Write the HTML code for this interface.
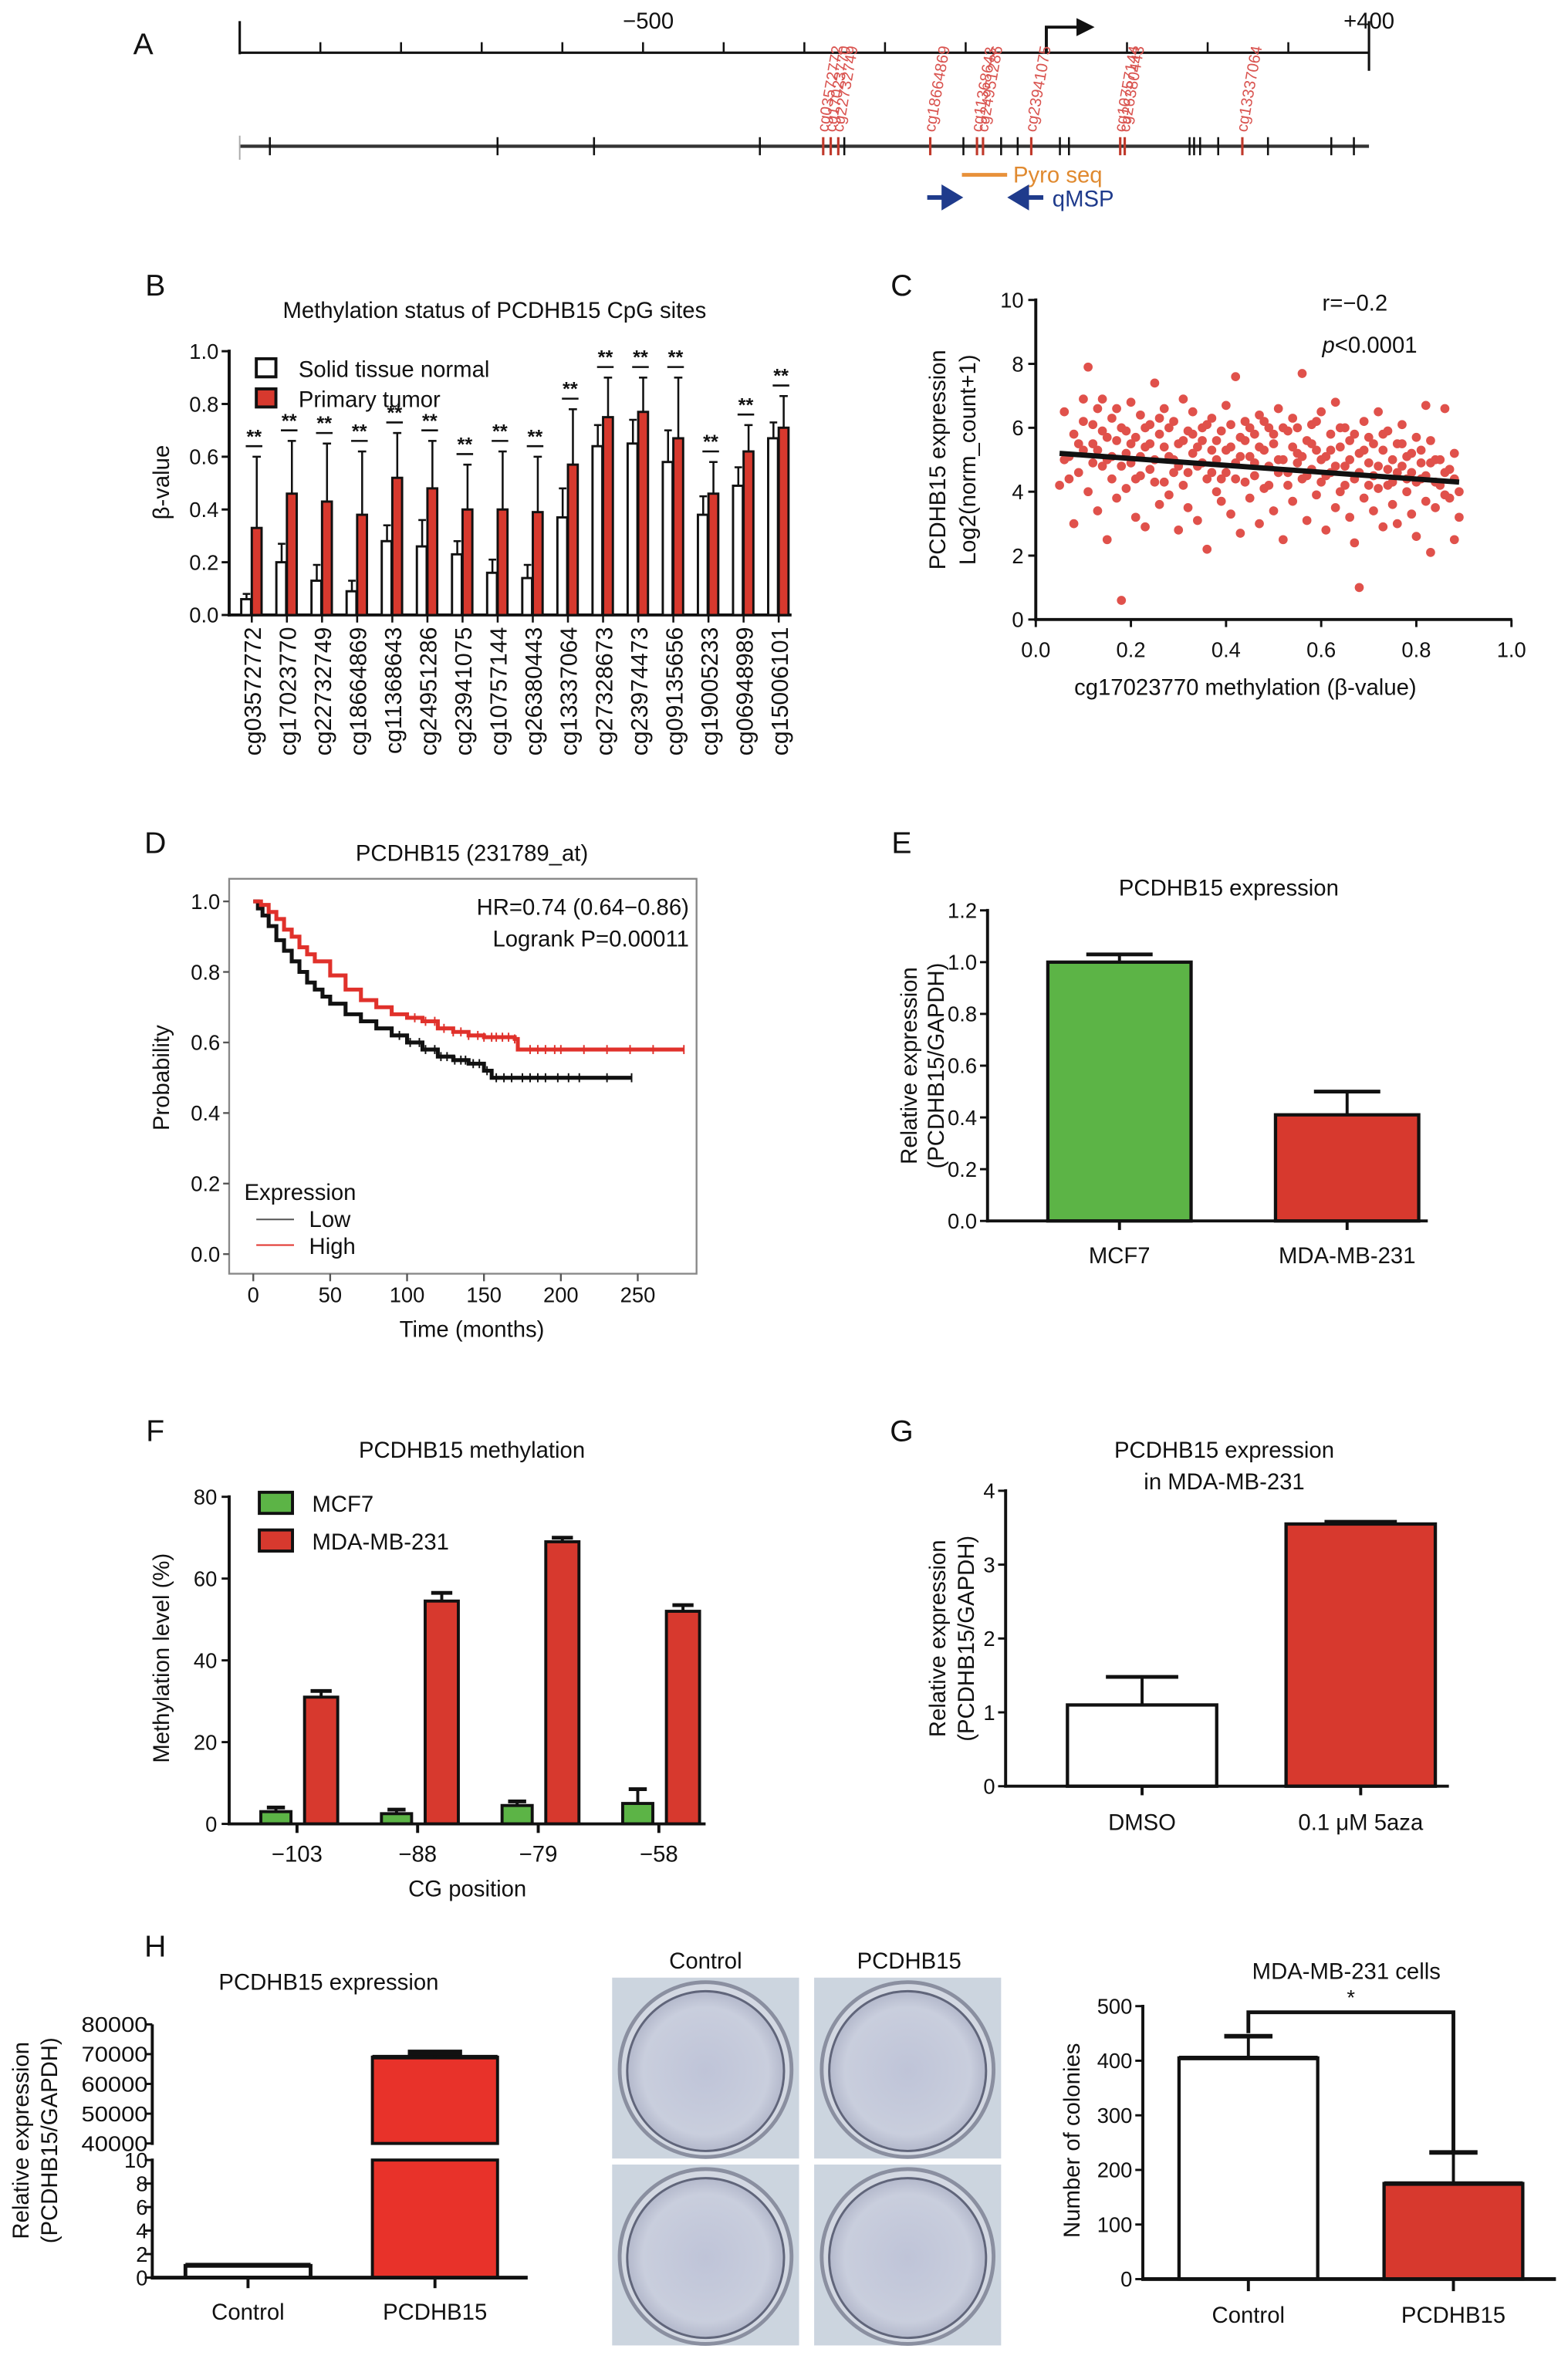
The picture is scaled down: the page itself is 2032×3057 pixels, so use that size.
<!DOCTYPE html>
<html><head><meta charset="utf-8"><style>
html,body{margin:0;padding:0;background:#fff;}
svg{display:block;font-family:"Liberation Sans",Arial,sans-serif;}
</style></head><body>
<svg id="fig" xmlns="http://www.w3.org/2000/svg" width="2032" height="3057" viewBox="0 0 1040 1565" preserveAspectRatio="none">
<defs>
<radialGradient id="plate" cx="50%" cy="50%" r="50%">
<stop offset="0%" stop-color="#bfc4d8"/><stop offset="80%" stop-color="#c9cedd"/><stop offset="100%" stop-color="#b3b8cb"/>
</radialGradient>
</defs>
</svg>
<script>
// ---------- data ----------
const bSites=["cg03572772","cg17023770","cg22732749","cg18664869","cg11368643","cg24951286","cg23941075","cg10757144","cg26380443","cg13337064","cg27328673","cg23974473","cg09135656","cg19005233","cg06948989","cg15006101"];
const bNormal=[0.06,0.20,0.13,0.09,0.28,0.26,0.23,0.16,0.14,0.37,0.64,0.65,0.58,0.38,0.49,0.67];
const bNormalErr=[0.08,0.27,0.19,0.13,0.34,0.36,0.28,0.21,0.19,0.48,0.72,0.74,0.70,0.45,0.56,0.73];
const bTumor=[0.33,0.46,0.43,0.38,0.52,0.48,0.40,0.40,0.39,0.57,0.75,0.77,0.67,0.46,0.62,0.71];
const bTumorErr=[0.60,0.66,0.65,0.62,0.69,0.66,0.57,0.62,0.60,0.78,0.90,0.90,0.90,0.58,0.72,0.83];
const bTicks=[0,0.2,0.4,0.6,0.8,1.0];
const bTickLabels=["0.0","0.2","0.4","0.6","0.8","1.0"];

const cX=[0.05,0.06,0.07,0.08,0.08,0.09,0.10,0.10,0.11,0.11,0.12,0.12,0.13,0.13,0.14,0.14,0.15,0.15,0.16,0.16,0.17,0.17,0.18,0.18,0.19,0.19,0.20,0.20,0.21,0.21,0.22,0.22,0.23,0.23,0.24,0.24,0.25,0.25,0.26,0.26,0.27,0.27,0.28,0.28,0.29,0.29,0.30,0.30,0.31,0.31,0.32,0.32,0.33,0.33,0.34,0.34,0.35,0.35,0.36,0.36,0.37,0.37,0.38,0.38,0.39,0.39,0.40,0.40,0.41,0.41,0.42,0.42,0.43,0.43,0.44,0.44,0.45,0.45,0.46,0.46,0.47,0.47,0.48,0.48,0.49,0.49,0.50,0.50,0.51,0.51,0.52,0.52,0.53,0.53,0.54,0.54,0.55,0.55,0.56,0.56,0.57,0.57,0.58,0.58,0.59,0.59,0.60,0.60,0.61,0.61,0.62,0.62,0.63,0.63,0.64,0.64,0.65,0.65,0.66,0.66,0.67,0.67,0.68,0.68,0.69,0.69,0.70,0.70,0.71,0.71,0.72,0.72,0.73,0.73,0.74,0.74,0.75,0.75,0.76,0.76,0.77,0.77,0.78,0.78,0.79,0.79,0.80,0.80,0.81,0.81,0.82,0.82,0.83,0.83,0.84,0.84,0.85,0.86,0.86,0.87,0.88,0.88,0.89,0.89,
0.06,0.07,0.09,0.10,0.12,0.13,0.14,0.15,0.16,0.17,0.18,0.19,0.20,0.21,0.22,0.23,0.24,0.25,0.26,0.27,0.28,0.29,0.30,0.31,0.32,0.33,0.34,0.35,0.36,0.37,0.38,0.39,0.40,0.41,0.42,0.43,0.44,0.45,0.46,0.47,0.48,0.49,0.50,0.51,0.52,0.53,0.54,0.55,0.56,0.57,0.58,0.59,0.60,0.61,0.62,0.63,0.64,0.65,0.66,0.67,0.68,0.69,0.70,0.71,0.72,0.73,0.74,0.75,0.76,0.77,0.78,0.79,0.80,0.81,0.82,0.83,0.84,0.85,0.86,0.87,0.88];
const cY=[4.2,6.5,5.1,3.0,5.8,4.6,6.9,5.3,7.9,4.0,6.1,5.5,3.4,6.6,4.8,5.9,2.5,5.0,6.3,4.4,5.6,3.8,0.6,6.0,5.2,4.1,6.8,4.9,5.7,3.2,6.4,4.5,5.4,2.9,6.1,4.7,7.4,5.0,3.6,5.8,4.3,6.6,5.1,3.9,6.2,4.6,5.5,2.8,6.9,4.2,5.9,3.5,5.2,6.5,4.8,3.1,5.6,6.0,4.4,2.2,5.3,6.3,4.0,5.0,3.7,5.9,4.6,6.7,5.4,3.3,7.6,4.9,5.7,2.7,4.3,6.2,5.1,3.8,5.8,4.5,6.4,3.0,5.3,4.1,6.0,4.8,5.5,3.4,6.6,4.6,5.0,2.5,5.9,4.2,6.3,3.7,5.2,4.9,7.7,4.4,5.6,3.1,6.1,4.7,5.3,3.9,6.5,4.3,5.1,2.8,5.8,4.6,6.8,3.5,5.4,4.0,6.0,4.8,3.2,5.6,4.4,2.4,1.0,5.2,6.2,3.8,4.9,5.7,3.4,4.5,6.5,4.1,5.3,2.9,4.7,5.9,3.6,4.3,5.5,3.0,4.8,6.1,4.0,5.1,3.3,4.6,5.7,2.6,4.4,5.3,3.7,6.7,4.9,2.1,5.0,3.5,4.2,6.6,3.9,4.7,2.5,5.2,4.0,3.2,
5.0,4.4,5.5,6.2,4.9,5.3,6.9,5.7,5.1,6.6,4.8,5.9,5.5,4.4,5.1,6.0,5.5,4.3,6.3,5.4,6.0,5.0,4.8,5.6,4.6,5.8,5.4,4.9,6.1,4.6,5.6,4.4,5.3,6.1,4.4,5.1,5.6,6.0,4.9,5.4,6.2,4.2,5.8,5.0,6.0,4.6,5.4,6.0,5.1,4.5,5.5,6.2,5.0,4.5,5.3,4.8,6.0,4.2,5.0,5.8,4.6,5.3,4.2,5.5,4.8,5.8,4.2,5.0,4.6,5.5,4.4,5.2,4.3,4.9,4.5,5.6,4.3,5.0,4.6,3.8,4.4];
const cFit=[[0.05,5.2],[0.89,4.3]];
const cTicksX=[0,0.2,0.4,0.6,0.8,1.0];
const cTicksXLabels=["0.0","0.2","0.4","0.6","0.8","1.0"];
const cTicksY=[0,2,4,6,8,10];

const dLowT=[0,3,6,10,15,20,25,30,35,40,45,50,60,70,80,90,100,110,120,130,140,150,155,246];
const dLowP=[1,0.98,0.96,0.93,0.89,0.86,0.83,0.80,0.77,0.75,0.73,0.71,0.68,0.66,0.64,0.62,0.60,0.58,0.56,0.55,0.54,0.52,0.50,0.50];
const dHighT=[0,5,10,15,20,25,30,35,40,50,60,70,80,90,100,110,120,130,140,150,170,172,280];
const dHighP=[1,0.99,0.97,0.95,0.92,0.90,0.87,0.85,0.83,0.79,0.75,0.72,0.70,0.68,0.67,0.66,0.64,0.63,0.62,0.615,0.61,0.58,0.58];
const dLowCens=[95,102,108,112,118,122,126,131,135,138,143,147,152,158,163,168,175,180,185,190,198,205,212,230,246];
const dHighCens=[105,112,118,124,130,135,140,146,150,155,158,162,166,170,180,185,190,196,200,215,230,245,260,280];
const dTicksX=[0,50,100,150,200,250];
const dTicksY=[0,0.2,0.4,0.6,0.8,1.0];
const dTicksYLabels=["0.0","0.2","0.4","0.6","0.8","1.0"];

const eCats=["MCF7","MDA-MB-231"];
const eVals=[1.0,0.41];
const eErr=[1.03,0.50];
const eTicks=[0,0.2,0.4,0.6,0.8,1.0,1.2];
const eTickLabels=["0.0","0.2","0.4","0.6","0.8","1.0","1.2"];

const fCats=["\u2212103","\u221288","\u221279","\u221258"];
const fMCF7=[3,2.5,4.5,5];
const fMCF7Err=[4,3.5,5.5,8.5];
const fMDA=[31,54.5,69,52];
const fMDAErr=[32.5,56.5,70,53.5];
const fTicks=[0,20,40,60,80];

const gCats=["DMSO","0.1 \u03bcM 5aza"];
const gVals=[1.1,3.55];
const gErr=[1.48,3.58];
const gTicks=[0,1,2,3,4];

const hCats=["Control","PCDHB15"];
const hVals=[1,69000];
const hErr=[1.1,70500];
const hTicksLow=[0,2,4,6,8,10];
const hTicksHigh=[40000,50000,60000,70000,80000];

const rCats=["Control","PCDHB15"];
const rVals=[405,175];
const rErr=[445,232];
const rTicks=[0,100,200,300,400,500];

const aBlackTicks=[179,330,394,504,560,639,664,675,703,709,789,792,796,808,841,883,898];
const aRedSites=["cg03572772","cg17023770","cg22732749","cg18664869","cg11368643","cg24951286","cg23941075","cg10757144","cg26380443","cg13337064"];
const aRedPos=[546,551,556,617,648,652,684,743,746,824];

// ---------- helpers ----------
const NS="http://www.w3.org/2000/svg";
const S=document.getElementById('fig');
const RED="#d7392e", GREEN="#5cb446";
function el(tag,a,name,parent){
  const e=document.createElementNS(NS,tag);
  for(const k in a) e.setAttribute(k,a[k]);
  
  
  (parent||S).appendChild(e);
  return e;
}
function tx(x,y,s,size,anchor,name,extra){
  const a=Object.assign({x:x,y:y,'font-size':size,'text-anchor':anchor||'middle',fill:'#111'},extra||{});
  const e=el('text',a,name);
  e.textContent=s;
  return e;
}
function ln(x1,y1,x2,y2,name,w,c){return el('line',{x1,y1,x2,y2,stroke:c||'#111','stroke-width':w||2},name);}

// ---------- Panel A ----------
tx(95,36,"A",20,'middle','panel-label-a');
ln(159,35,908,35,'a-axis-line',1.6);
ln(159,14,159,36,'a-axis-left-end',1.6);
ln(908,14,908,47,'a-axis-right-end',1.6);
for(let i=1;i<14;i++){ ln(159+i*53.5,28,159+i*53.5,35,'a-axis-tick',1.3); }
tx(430,19,"\u2212500",15,'middle','a-label-minus500');
tx(908,19,"+400",15,'middle','a-label-plus400');
el('path',{d:'M694,35 V18 H716',fill:'none',stroke:'#111','stroke-width':2},'tss-arrow-stem');
el('path',{d:'M714,12 L726,18 L714,24 Z',fill:'#111'},'tss-arrow-head');
ln(159,97,908,97,'cpg-line',2.2,'#333');
ln(159,90,159,106,'cpg-line-start',1,'#aaa');
aBlackTicks.forEach(x=>{ ln(x,91,x,103,'cpg-tick',1.3); });
aRedPos.forEach((x,i)=>{
  ln(x,91,x,103,'cpg-tick-red',1.6,'#c0392b');
  tx(x+3,88,aRedSites[i],10.5,'start','cpg-site-label',{fill:'#d9534f',transform:`rotate(-80 ${x+3} 88)`});
});
ln(638,116,668,116,'pyro-seq-line',2.5,'#e8913a');
tx(672,121,"Pyro seq",15,'start','pyro-seq-label',{fill:'#e08a30'});
el('path',{d:'M615,131 H630 M626,125 L636,131 L626,137 Z',stroke:'#1f3b8c','stroke-width':3,fill:'#1f3b8c'},'qmsp-forward-arrow');
el('path',{d:'M692,131 H677 M681,125 L671,131 L681,137 Z',stroke:'#1f3b8c','stroke-width':3,fill:'#1f3b8c'},'qmsp-reverse-arrow');
tx(698,137,"qMSP",15,'start','qmsp-label',{fill:'#1f3b8c'});

// ---------- Panel B ----------
tx(103,196,"B",20,'middle','panel-label-b');
tx(328,211,"Methylation status of PCDHB15 CpG sites",15,'middle','b-title');
const yB=v=>408-v*175;
const gxB=i=>167+i*23.3;
ln(152,232,152,409,'b-y-axis',2);
ln(151,408,525,408,'b-x-axis',2);
bTicks.forEach((v,i)=>{ ln(147,yB(v),152,yB(v),'b-y-tick',1.5); tx(145,yB(v)+5,bTickLabels[i],14,'end','b-y-tick-label'); });
tx(112,320,"\u03b2-value",15,'middle','b-y-axis-title',{transform:'rotate(-90 112 320)'});
bSites.forEach((s,i)=>{
  const g=gxB(i);
  ln(g-3.5,yB(bNormal[i]),g-3.5,yB(bNormalErr[i]),'b-normal-error',1.3);
  ln(g-6,yB(bNormalErr[i]),g-1,yB(bNormalErr[i]),'b-normal-error-cap',1.3);
  el('rect',{x:g-7,y:yB(bNormal[i]),width:6.5,height:408-yB(bNormal[i]),fill:'#fff',stroke:'#111','stroke-width':1.5},'bar-normal-'+s);
  ln(g+3.3,yB(bTumor[i]),g+3.3,yB(bTumorErr[i]),'b-tumor-error',1.3);
  ln(g+0.5,yB(bTumorErr[i]),g+6,yB(bTumorErr[i]),'b-tumor-error-cap',1.3);
  el('rect',{x:g,y:yB(bTumor[i]),width:6.5,height:408-yB(bTumor[i]),fill:RED,stroke:'#111','stroke-width':1.5},'bar-tumor-'+s);
  ln(g-4,yB(bTumorErr[i])-7,g+7,yB(bTumorErr[i])-7,'b-significance-line',1.3);
  tx(g+1.5,yB(bTumorErr[i])-9,"**",13,'middle','b-significance-stars',{'font-weight':'bold'});
  ln(g,408,g,413,'b-x-tick',1.3);
  tx(g+6,416,s,15.5,'end','b-x-tick-label',{transform:`rotate(-90 ${g+6} 416)`});
});
el('rect',{x:170,y:238,width:13,height:12,fill:'#fff',stroke:'#111','stroke-width':2},'legend-swatch-normal');
tx(198,250,"Solid tissue normal",15,'start','legend-label-normal');
el('rect',{x:170,y:258,width:13,height:12,fill:RED,stroke:'#111','stroke-width':2},'legend-swatch-tumor');
tx(198,270,"Primary tumor",15,'start','legend-label-tumor');

// ---------- Panel C ----------
tx(598,196,"C",20,'middle','panel-label-c');
const xC=v=>687+v*315.5, yC=v=>411-v*21.2;
cX.forEach((x,i)=>{ el('circle',{cx:xC(x),cy:yC(cY[i]),r:3.0,fill:'#e0514b'},'c-scatter-point'); });
ln(xC(cFit[0][0]),yC(cFit[0][1]),xC(cFit[1][0]),yC(cFit[1][1]),'c-regression-line',3.5);
ln(687,198,687,412,'c-y-axis',2);
ln(686,411,1003,411,'c-x-axis',2);
cTicksY.forEach(v=>{ ln(682,yC(v),687,yC(v),'c-y-tick',1.5); tx(679,yC(v)+5,String(v),14,'end','c-y-tick-label'); });
cTicksX.forEach((v,i)=>{ ln(xC(v),411,xC(v),416,'c-x-tick',1.5); tx(xC(v),436,cTicksXLabels[i],14,'middle','c-x-tick-label'); });
tx(627,305,"PCDHB15 expression",15,'middle','c-y-axis-title-1',{transform:'rotate(-90 627 305)'});
tx(647,305,"Log2(norm_count+1)",15,'middle','c-y-axis-title-2',{transform:'rotate(-90 647 305)'});
tx(826,461,"cg17023770 methylation (\u03b2-value)",15,'middle','c-x-axis-title');
tx(877,206,"r=\u22120.2",15,'start','c-correlation-r');
const pt=tx(877,234,"",15,'start','c-p-value');
pt.innerHTML='<tspan font-style="italic">p</tspan>&lt;0.0001';

// ---------- Panel D ----------
tx(103,566,"D",20,'middle','panel-label-d');
tx(313,571,"PCDHB15 (231789_at)",15,'middle','d-title');
const xD=t=>168+t*1.02, yD=v=>832-v*234;
el('rect',{x:152,y:583,width:310,height:262,fill:'none',stroke:'#888','stroke-width':1.2},'d-plot-frame');
dTicksY.forEach((v,i)=>{ ln(148,yD(v),152,yD(v),'d-y-tick',1.2,'#555'); tx(146,yD(v)+5,dTicksYLabels[i],14,'end','d-y-tick-label'); });
dTicksX.forEach(v=>{ ln(xD(v),845,xD(v),850,'d-x-tick',1.2,'#555'); tx(xD(v),864,String(v),14,'middle','d-x-tick-label'); });
tx(313,887,"Time (months)",15,'middle','d-x-axis-title');
tx(112,715,"Probability",15,'middle','d-y-axis-title',{transform:'rotate(-90 112 715)'});
function stepPath(T,P){let d=`M${xD(T[0])},${yD(P[0])}`;for(let i=1;i<T.length;i++){d+=` H${xD(T[i])} V${yD(P[i])}`;}return d;}
function survAt(T,P,t){let p=P[0];for(let i=0;i<T.length;i++){if(T[i]<=t)p=P[i];}return p;}
el('path',{d:stepPath(dLowT,dLowP),fill:'none',stroke:'#111','stroke-width':2.6},'d-curve-low');
el('path',{d:stepPath(dHighT,dHighP),fill:'none',stroke:'#e0312b','stroke-width':2.6},'d-curve-high');
dLowCens.forEach(t=>{const y=yD(survAt(dLowT,dLowP,t));ln(xD(t),y-3,xD(t),y+3,'d-censor-low',1,'#111');});
dHighCens.forEach(t=>{const y=yD(survAt(dHighT,dHighP,t));ln(xD(t),y-3,xD(t),y+3,'d-censor-high',1,'#e0312b');});
tx(457,607,"HR=0.74 (0.64\u22120.86)",15,'end','d-hazard-ratio');
tx(457,628,"Logrank P=0.00011",15,'end','d-logrank-p');
tx(162,796,"Expression",15,'start','d-legend-title');
ln(170,809,195,809,'d-legend-line-low',1,'#555');
tx(205,814,"Low",15,'start','d-legend-label-low');
ln(170,826,195,826,'d-legend-line-high',1,'#e0312b');
tx(205,832,"High",15,'start','d-legend-label-high');

// ---------- Panel E ----------
tx(598,566,"E",20,'middle','panel-label-e');
tx(815,594,"PCDHB15 expression",15,'middle','e-title');
const yE=v=>810-v*171.7;
const eX=[695,846], eW=95;
eCats.forEach((c,i)=>{
  const cx=eX[i]+eW/2;
  ln(cx,yE(eVals[i]),cx,yE(eErr[i]),'e-error-bar',2);
  ln(cx-22,yE(eErr[i]),cx+22,yE(eErr[i]),'e-error-cap',2.5);
  el('rect',{x:eX[i],y:yE(eVals[i]),width:eW,height:810-yE(eVals[i]),fill:i==0?GREEN:RED,stroke:'#111','stroke-width':2.2},'e-bar-'+c);
  ln(cx,810,cx,816,'e-x-tick',2);
  tx(cx,838,c,15,'middle','e-x-tick-label');
});
ln(655,603,655,811,'e-y-axis',2);
ln(654,810,947,810,'e-x-axis',2);
eTicks.forEach((v,i)=>{ ln(650,yE(v),655,yE(v),'e-y-tick',1.5); tx(648,yE(v)+5,eTickLabels[i],14,'end','e-y-tick-label'); });
tx(608,707,"Relative expression",15,'middle','e-y-axis-title-1',{transform:'rotate(-90 608 707)'});
tx(626,707,"(PCDHB15/GAPDH)",15,'middle','e-y-axis-title-2',{transform:'rotate(-90 626 707)'});

// ---------- Panel F ----------
tx(103,956,"F",20,'middle','panel-label-f');
tx(313,967,"PCDHB15 methylation",15,'middle','f-title');
const yF=v=>1210-v*2.7125;
const fGX=[197,277,357,437];
fCats.forEach((c,i)=>{
  const g=fGX[i];
  ln(g-14,yF(fMCF7[i]),g-14,yF(fMCF7Err[i]),'f-mcf7-error',2);
  ln(g-20,yF(fMCF7Err[i]),g-8,yF(fMCF7Err[i]),'f-mcf7-error-cap',2.5);
  el('rect',{x:g-24,y:yF(fMCF7[i]),width:20,height:1210-yF(fMCF7[i]),fill:GREEN,stroke:'#111','stroke-width':2},'f-bar-mcf7');
  ln(g+16,yF(fMDA[i]),g+16,yF(fMDAErr[i]),'f-mda-error',2);
  ln(g+9,yF(fMDAErr[i]),g+23,yF(fMDAErr[i]),'f-mda-error-cap',2.5);
  el('rect',{x:g+5,y:yF(fMDA[i]),width:22,height:1210-yF(fMDA[i]),fill:RED,stroke:'#111','stroke-width':2},'f-bar-mda');
  ln(g,1210,g,1216,'f-x-tick',2);
  tx(g,1235,c,15,'middle','f-x-tick-label');
});
ln(152,992,152,1211,'f-y-axis',2);
ln(151,1210,468,1210,'f-x-axis',2);
fTicks.forEach(v=>{ ln(147,yF(v),152,yF(v),'f-y-tick',1.5); tx(144,yF(v)+5,String(v),14,'end','f-y-tick-label'); });
tx(112,1100,"Methylation level (%)",15,'middle','f-y-axis-title',{transform:'rotate(-90 112 1100)'});
tx(310,1258,"CG position",15,'middle','f-x-axis-title');
el('rect',{x:172,y:990,width:22,height:14,fill:GREEN,stroke:'#111','stroke-width':2},'f-legend-swatch-mcf7');
tx(207,1003,"MCF7",15,'start','f-legend-label-mcf7');
el('rect',{x:172,y:1015,width:22,height:14,fill:RED,stroke:'#111','stroke-width':2},'f-legend-swatch-mda');
tx(207,1028,"MDA-MB-231",15,'start','f-legend-label-mda');

// ---------- Panel G ----------
tx(598,956,"G",20,'middle','panel-label-g');
tx(812,967,"PCDHB15 expression",15,'middle','g-title-1');
tx(812,988,"in MDA-MB-231",15,'middle','g-title-2');
const yG=v=>1185-v*49;
const gX=[708,853], gW=99;
gCats.forEach((c,i)=>{
  const cx=gX[i]+gW/2;
  ln(cx,yG(gVals[i]),cx,yG(gErr[i]),'g-error-bar',2);
  ln(cx-24,yG(gErr[i]),cx+24,yG(gErr[i]),'g-error-cap',2.5);
  el('rect',{x:gX[i],y:yG(gVals[i]),width:gW,height:1185-yG(gVals[i]),fill:i==0?'#fff':RED,stroke:'#111','stroke-width':2.2},'g-bar-'+i);
  ln(cx,1185,cx,1191,'g-x-tick',2);
  tx(cx,1214,c,15,'middle','g-x-tick-label');
});
ln(667,988,667,1186,'g-y-axis',2);
ln(666,1185,961,1185,'g-x-axis',2);
gTicks.forEach(v=>{ ln(662,yG(v),667,yG(v),'g-y-tick',1.5); tx(660,yG(v)+5,String(v),14,'end','g-y-tick-label'); });
tx(627,1087,"Relative expression",15,'middle','g-y-axis-title-1',{transform:'rotate(-90 627 1087)'});
tx(646,1087,"(PCDHB15/GAPDH)",15,'middle','g-y-axis-title-2',{transform:'rotate(-90 646 1087)'});

// ---------- Panel H: expression (broken axis) ----------
tx(103,1298,"H",20,'middle','panel-label-h');
tx(218,1320,"PCDHB15 expression",15,'middle','h-title');
const yHL=v=>1511-v*7.8;
const yHH=v=>1422-(v-40000)*0.001975;
const hX=[123,247], hW=83;
ln(hX[0]+hW/2,yHL(hVals[0]),hX[0]+hW/2,yHL(hErr[0]),'h-control-error',2);
el('rect',{x:hX[0],y:yHL(hVals[0]),width:hW,height:1511-yHL(hVals[0]),fill:'#fff',stroke:'#111','stroke-width':2.5},'h-bar-control');
ln(hX[0],yHL(hErr[0]),hX[0]+hW,yHL(hErr[0]),'h-control-error-cap',2.5);
el('rect',{x:hX[1],y:yHL(10),width:hW,height:1511-yHL(10),fill:'#e8322a',stroke:'#111','stroke-width':2},'h-bar-pcdhb15-lower');
el('rect',{x:hX[1],y:yHH(hVals[1]),width:hW,height:1422-yHH(hVals[1]),fill:'#e8322a',stroke:'#111','stroke-width':2},'h-bar-pcdhb15-upper');
ln(hX[1],yHH(hVals[1]),hX[1]+hW,yHH(hVals[1]),'h-pcdhb15-bar-top',3);
ln(hX[1]+hW/2,yHH(hVals[1]),hX[1]+hW/2,yHH(hErr[1]),'h-pcdhb15-error',2);
ln(hX[1]+hW/2-18,yHH(hErr[1]),hX[1]+hW/2+18,yHH(hErr[1]),'h-pcdhb15-error-cap',4);
ln(101,1343,101,1423,'h-y-axis-upper',2);
ln(101,1432,101,1512,'h-y-axis-lower',2);
ln(100,1511,350,1511,'h-x-axis',2.5);
hTicksLow.forEach(v=>{ ln(96,yHL(v),101,yHL(v),'h-y-tick-low',1.5); tx(98,yHL(v)+5,String(v),14,'end','h-y-tick-label-low'); });
hTicksHigh.forEach(v=>{ ln(96,yHH(v),101,yHH(v),'h-y-tick-high',1.5); tx(98,yHH(v)+5,String(v),14,'end','h-y-tick-label-high',{textLength:44,lengthAdjust:'spacingAndGlyphs'}); });
hCats.forEach((c,i)=>{ const cx=hX[i]+hW/2; ln(cx,1511,cx,1518,'h-x-tick',2); tx(cx,1539,c,15,'middle','h-x-tick-label'); });
tx(19,1420,"Relative expression",15,'middle','h-y-axis-title-1',{transform:'rotate(-90 19 1420)'});
tx(38,1420,"(PCDHB15/GAPDH)",15,'middle','h-y-axis-title-2',{transform:'rotate(-90 38 1420)'});

// ---------- Panel H: colony photos ----------
tx(468,1306,"Control",15,'middle','photo-label-control');
tx(603,1306,"PCDHB15",15,'middle','photo-label-pcdhb15');
const photos=[[406,1312],[540,1312],[406,1436],[540,1436]];
const photoNames=['photo-control-1','photo-pcdhb15-1','photo-control-2','photo-pcdhb15-2'];
photos.forEach((p,i)=>{
  el('rect',{x:p[0],y:p[1],width:124,height:120,fill:'#ccd5df'},photoNames[i]+'-background');
  el('ellipse',{cx:p[0]+62,cy:p[1]+61,rx:57,ry:58,fill:'#d3d8e2',stroke:'#8a8fa0','stroke-width':2.5},photoNames[i]+'-plate-rim');
  el('ellipse',{cx:p[0]+62,cy:p[1]+62,rx:52,ry:53,fill:'url(#plate)',stroke:'#60657a','stroke-width':1.5},photoNames[i]+'-plate');
});

// ---------- Panel H: colonies ----------
tx(893,1313,"MDA-MB-231 cells",15,'middle','r-title');
const yR=v=>1512-v*0.3622;
const rX=[782,918], rW=92;
rCats.forEach((c,i)=>{
  const cx=rX[i]+rW/2;
  ln(cx,yR(rVals[i]),cx,yR(rErr[i]),'r-error-bar',2);
  ln(cx-16,yR(rErr[i]),cx+16,yR(rErr[i]),'r-error-cap',3);
  el('rect',{x:rX[i],y:yR(rVals[i]),width:rW,height:1512-yR(rVals[i]),fill:i==0?'#fff':RED,stroke:'#111','stroke-width':2.2},'r-bar-'+c);
  ln(rX[i],yR(rVals[i]),rX[i]+rW,yR(rVals[i]),'r-bar-top',3);
  ln(cx,1512,cx,1520,'r-x-tick',2);
  tx(cx,1541,c,15,'middle','r-x-tick-label');
});
ln(758,1330,758,1513,'r-y-axis',2);
ln(757,1512,1032,1512,'r-x-axis',2.5);
rTicks.forEach(v=>{ ln(753,yR(v),758,yR(v),'r-y-tick',1.5); tx(751,yR(v)+5,String(v),14,'end','r-y-tick-label'); });
tx(716,1420,"Number of colonies",15,'middle','r-y-axis-title',{transform:'rotate(-90 716 1420)'});
const bx1=rX[0]+rW/2, bx2=rX[1]+rW/2, by=1335;
el('path',{d:`M${bx1},${yR(rErr[0])-2} V${by} H${bx2} V${yR(rErr[1])}`,fill:'none',stroke:'#111','stroke-width':2.5},'r-significance-bracket');
tx((bx1+bx2)/2,1330,"*",14,'middle','r-significance-star');
</script>
</body></html>
